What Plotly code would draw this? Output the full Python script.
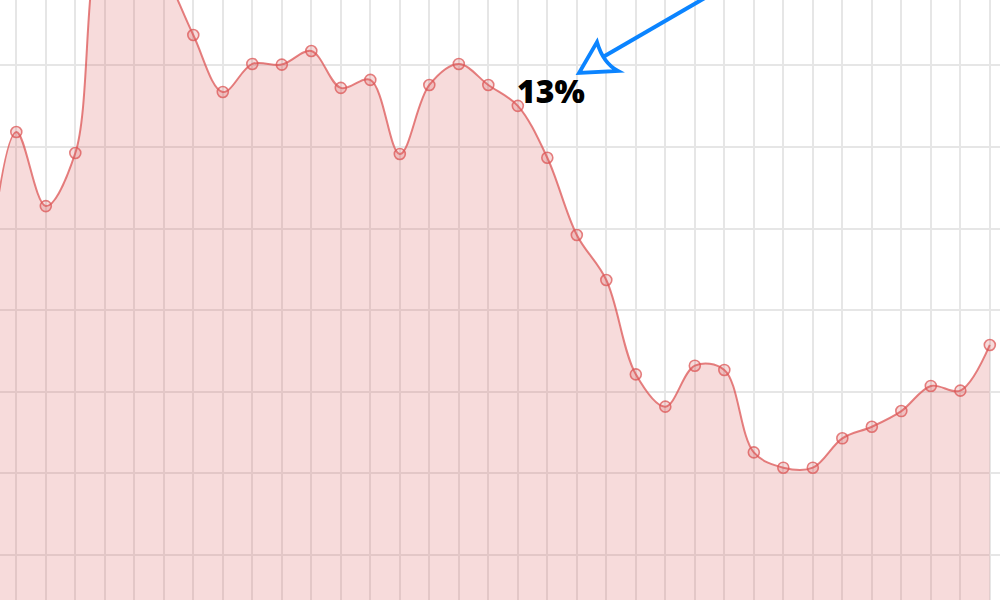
import plotly.graph_objects as go

# Data (index along x, value along y)
x_index = list(range(35))
values = [26.5, 35.92, 31.38, 34.63, 48.3, 48.9, 45.85, 41.86, 38.37, 40.09,
          40.05, 40.88, 38.62, 39.11, 34.57, 38.80, 40.09, 38.80, 37.52, 34.34,
          29.61, 26.85, 21.07, 19.09, 21.60, 21.34, 16.29, 15.35, 15.35, 17.15,
          17.86, 18.82, 20.36, 20.07, 22.87]

annotation_text = "13%"

line_col = "rgba(220,85,85,0.75)"
fill_col = "rgba(220,90,90,0.22)"
marker_fill = "rgba(220,90,90,0.22)"
arrow_col = "#0b84ff"

fig = go.Figure()
fig.add_trace(go.Scatter(
    x=x_index, y=values,
    mode="lines+markers",
    line=dict(shape="spline", color=line_col, width=2),
    fill="tozeroy", fillcolor=fill_col,
    marker=dict(symbol="circle", size=11, color=marker_fill,
                line=dict(color=line_col, width=1.6)),
    hoverinfo="skip", showlegend=False,
))

# Hollow arrowhead + shaft (paper coordinates)
def P(px, py):
    return px / 1000.0, 1 - py / 600.0

tip = P(579, 73); top = P(597, 42); right = P(618, 71); ctrl = P(603, 63)
head = (f"M {tip[0]},{tip[1]} L {top[0]},{top[1]} "
        f"Q {ctrl[0]},{ctrl[1]} {right[0]},{right[1]} Z")
fig.add_shape(type="path", path=head, xref="paper", yref="paper",
              line=dict(color=arrow_col, width=3.8), fillcolor="white", layer="above")
s0 = P(603, 57); s1 = P(722, -12)
fig.add_shape(type="line", x0=s0[0], y0=s0[1], x1=s1[0], y1=s1[1],
              xref="paper", yref="paper", line=dict(color=arrow_col, width=4), layer="above")

fig.add_annotation(x=0.551, y=1 - 91 / 600.0, xref="paper", yref="paper",
                   text=annotation_text, showarrow=False,
                   font=dict(family="Open Sans", size=32, color="black", weight=800),
                   xanchor="center", yanchor="middle")

fig.update_xaxes(range=[0.4475, 34.345], dtick=1, tick0=0, showgrid=True,
                 gridcolor="#e6e6e6", gridwidth=2, showticklabels=False,
                 zeroline=False, showline=False, ticks="")
fig.update_yaxes(range=[7.243, 44.007], dtick=5, tick0=0, showgrid=True,
                 gridcolor="#e6e6e6", gridwidth=2, showticklabels=False,
                 zeroline=False, showline=False, ticks="")
fig.update_layout(width=1000, height=600, margin=dict(l=0, r=0, t=0, b=0, pad=0),
                  plot_bgcolor="white", paper_bgcolor="white")

fig.write_html("out.html", config={"displayModeBar": False},
               post_script="document.body.style.margin='0';document.body.style.overflow='hidden';")
